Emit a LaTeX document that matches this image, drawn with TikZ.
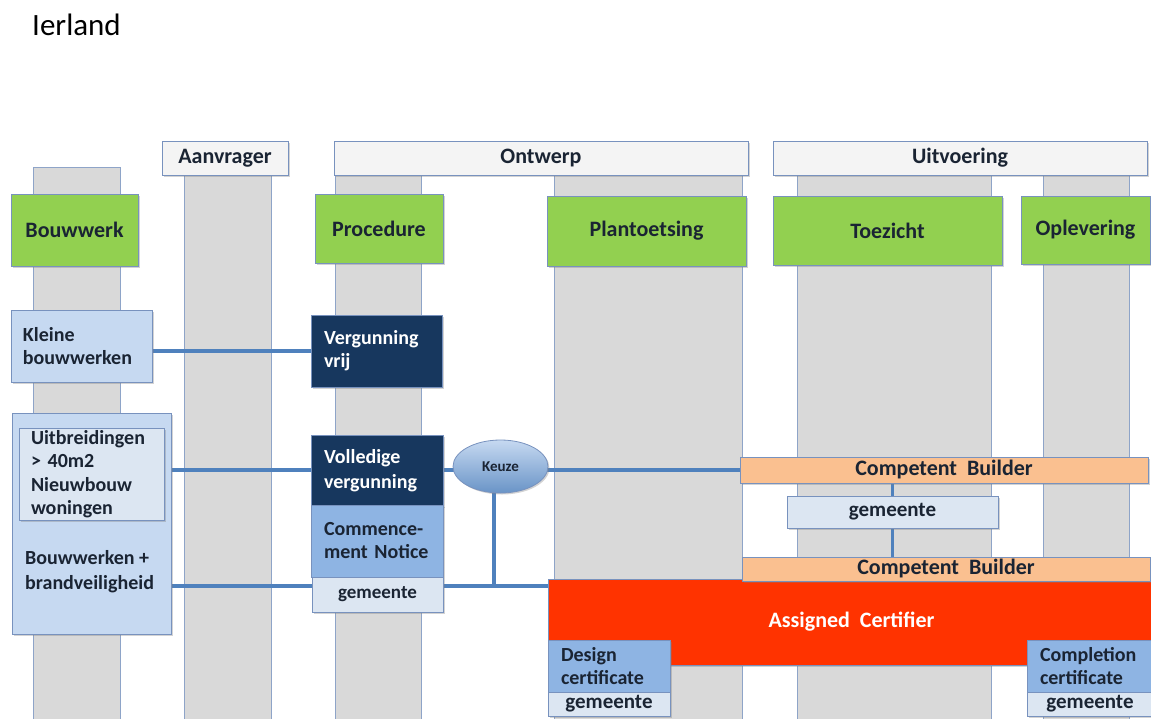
\documentclass[tikz,border=0pt]{standalone}
\usepackage{fontspec}
\setmainfont{Carlito}
\usepackage{tikz}
\usetikzlibrary{shapes.geometric,shadows}
\definecolor{lanegrey}{HTML}{D9D9D9}
\definecolor{laneline}{HTML}{8EA4C8}
\definecolor{hdrfill}{HTML}{F4F4F4}
\definecolor{boxline}{HTML}{7892BE}
\definecolor{phasegreen}{HTML}{92D050}
\definecolor{lightblue}{HTML}{C6D9F1}
\definecolor{paleblue}{HTML}{DCE6F2}
\definecolor{navy}{HTML}{17375E}
\definecolor{noticeblue}{HTML}{8EB4E3}
\definecolor{peach}{HTML}{FAC090}
\definecolor{certred}{HTML}{FF3300}
\definecolor{linkblue}{HTML}{4F81BD}
\definecolor{textdark}{HTML}{1A2433}
\pgfdeclarelayer{back}
\pgfdeclarelayer{mid}
\pgfsetlayers{back,mid,main}
\tikzset{%
    lane/.style={%
        fill=lanegrey, draw=laneline, line width=0.8pt
    },
    box/.style={%
        draw=boxline, line width=0.8pt, inner sep=0pt, text=textdark,
        font=\bfseries\fontsize{20}{23}\selectfont,
        drop shadow={shadow xshift=1.5pt, shadow yshift=-1.5pt, opacity=0.35}
    },
    header/.style={%
        box, fill=hdrfill, font=\bfseries\fontsize{22}{25}\selectfont
    },
    phase/.style={%
        box, fill=phasegreen, font=\bfseries\fontsize{22}{25}\selectfont
    },
    light/.style={box, fill=lightblue, align=left},
    pale/.style={box, fill=paleblue, align=left},
    dark/.style={box, fill=navy, text=white, align=left},
    notice/.style={box, fill=noticeblue, align=left},
    builder/.style={%
        box, fill=peach, font=\bfseries\fontsize{22}{25}\selectfont
    },
    certifier/.style={%
        box, fill=certred, text=white, font=\bfseries\fontsize{22}{25}\selectfont
    },
    choice/.style={%
        ellipse, draw=boxline, line width=0.8pt, inner sep=0pt,
        top color=lightblue, bottom color=linkblue!85, text=textdark,
        font=\bfseries\fontsize{15}{18}\selectfont,
        drop shadow={shadow xshift=1.5pt, shadow yshift=-1.5pt, opacity=0.35}
    },
    link/.style={%
        draw=linkblue, line width=3.5pt
    }
}

\begin{document}
\begin{tikzpicture}[x=1pt, y=-1pt]
    \useasboundingbox (0,0) rectangle (1151,718);
    \node[anchor=base west, inner sep=0pt, font=\fontsize{31}{36}\selectfont] (titel) at (32,35) {Ierland};

    \begin{pgfonlayer}{back}
        \foreach \l/\r/\t in {33/120/167, 184/271/175, 335/421/175, 554/742/175, 797/991/175, 1043/1129/175}
            \draw[lane] (\l,\t) rectangle (\r,722);
    \end{pgfonlayer}

    \node[header, minimum width=126pt, minimum height=34pt] (aanvrager) at (225,158) {Aanvrager};
    \node[header, minimum width=414pt, minimum height=34pt] (ontwerp) at (541,158) {Ontwerp};
    \node[header, minimum width=374pt, minimum height=34pt] (uitvoering) at (960,158) {Uitvoering};

    \node[phase, minimum width=127pt, minimum height=72pt] (bouwwerk) at (74.5,230) {Bouwwerk};
    \node[phase, minimum width=128pt, minimum height=69pt] (procedure) at (379,228.5) {Procedure};
    \node[phase, minimum width=199pt, minimum height=70pt] (plantoets) at (646.5,231) {Plantoetsing};
    \node[phase, minimum width=229pt, minimum height=69pt] (toezicht) at (887.5,230.5) {Toezicht};
    \node[phase, minimum width=129pt, minimum height=68pt] (oplevering) at (1085.5,230) {Oplevering};

    \node[light, minimum width=141pt, minimum height=72pt, text width=117pt] (kleine) at (81.5,346) {Kleine\\bouwwerken};
    \node[dark, minimum width=131pt, minimum height=72pt, text width=105pt] (vrij) at (376.5,351) {Vergunning\\vrij};

    \node[light, minimum width=159pt, minimum height=221pt] (groot) at (91.5,523.5) {};
    \node[pale, minimum width=145pt, minimum height=92pt, text width=121pt, font=\bfseries\fontsize{20}{23.5}\selectfont] (uitbr) at (91.5,474) {Uitbreidingen\\> 40m2\\Nieuwbouw\\woningen};
    \node[anchor=west, align=left, inner sep=0pt, text=textdark, font=\bfseries\fontsize{20}{25}\selectfont] (brand) at (25,572) {Bouwwerken +\\brandveiligheid};

    \node[dark, minimum width=132pt, minimum height=71pt, text width=106pt, font=\bfseries\fontsize{20}{25}\selectfont] (volledig) at (377,470.5) {Volledige\\vergunning};
    \node[notice, minimum width=132pt, minimum height=72pt, text width=106pt] (commence) at (377,541) {Commence-\\ment Notice};
    \node[box, fill=paleblue, minimum width=131pt, minimum height=35pt, font=\bfseries\fontsize{19}{22}\selectfont] (gemeen) at (377.5,594.5) {gemeente};

    \node[choice, minimum width=95pt, minimum height=53pt] (keuze) at (500.5,466.5) {Keuze};
    \coordinate (split) at (494,586);

    \node[builder, minimum width=408pt, minimum height=26pt] (cbone) at (944,470) {Competent\ \ Builder};
    \node[box, fill=paleblue, minimum width=211pt, minimum height=32pt, font=\bfseries\fontsize{21}{24}\selectfont] (gemtwo) at (892.5,512) {gemeente};
    \node[certifier, minimum width=607pt, minimum height=86pt] (cert) at (851.5,622) {Assigned\ \ Certifier};
    \node[builder, minimum width=408pt, minimum height=24pt] (cbtwo) at (946,569) {Competent\ \ Builder};

    \node[notice, minimum width=122pt, minimum height=52pt, text width=96pt] (design) at (609,666) {Design\\certificate};
    \node[box, fill=paleblue, minimum width=122pt, minimum height=24pt, font=\bfseries\fontsize{21}{24}\selectfont] (gemthree) at (609,704) {gemeente};
    \node[notice, minimum width=126pt, minimum height=52pt, text width=100pt] (complet) at (1090,666) {Completion\\certificate};
    \node[box, fill=paleblue, minimum width=126pt, minimum height=24pt, font=\bfseries\fontsize{21}{24}\selectfont] (gemfour) at (1090,704) {gemeente};

    \begin{pgfonlayer}{mid}
        \draw[link] (kleine.east |- vrij) -- (vrij);
        \draw[link] (uitbr.east |- cbone) -- (cbone);
        \draw[link] (keuze -| split) -- (split);
        \draw[link] (groot.east |- split) -- (cert.west |- split);
        \draw[link] (gemtwo |- cbone) -- (gemtwo |- cbtwo);
    \end{pgfonlayer}
\end{tikzpicture}
\end{document}
